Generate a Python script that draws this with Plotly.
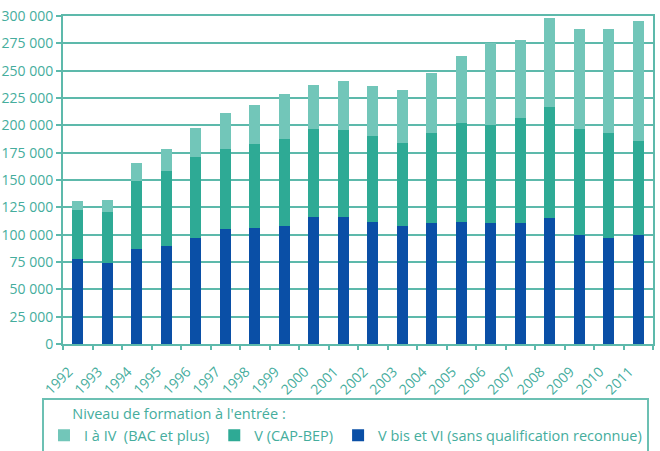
import plotly.graph_objects as go

years = [str(y) for y in range(1992, 2012)]
vbis_vi = [77700, 73800, 86900, 89600, 96900, 104900, 106100, 107600, 115900, 115900,
           111900, 107600, 110400, 111600, 110400, 110400, 115500, 99700, 96700, 99700]
v_cap_bep = [44800, 47200, 62500, 68400, 73800, 73700, 76800, 79600, 80400, 79800,
             78300, 76000, 82300, 90200, 90200, 96000, 101500, 96900, 96000, 86000]
i_iv_bac = [8000, 11000, 16600, 20600, 27300, 33000, 36000, 41800, 40900, 45100,
            46100, 48700, 55200, 61600, 75000, 71900, 81200, 91500, 95400, 109400]
y_ticks = list(range(0, 300001, 25000))

teal_txt = "#45ad9d"
grid_c = "#5db9ab"
font_fam = "Open Sans"

fig = go.Figure()
fig.add_trace(go.Bar(x=years, y=vbis_vi, name="V bis et VI (sans qualification reconnue)",
                     marker=dict(color="#0a4fa6", line=dict(width=0)), legendrank=3))
fig.add_trace(go.Bar(x=years, y=v_cap_bep, name="V (CAP-BEP)",
                     marker=dict(color="#2eaa95", line=dict(width=0)), legendrank=2))
fig.add_trace(go.Bar(x=years, y=i_iv_bac, name="I à IV  (BAC et plus)",
                     marker=dict(color="#72c6b9", line=dict(width=0)), legendrank=1))

fig.update_layout(
    width=660, height=451,
    barmode="stack", bargap=0.63,
    margin=dict(l=63, r=7, t=16, b=107, autoexpand=False),
    paper_bgcolor="white", plot_bgcolor="white",
    separators=", ",
    font=dict(family=font_fam, size=14, color=teal_txt),
    showlegend=True,
    legend=dict(
        orientation="h", traceorder="normal",
        x=-0.0356, xanchor="left", y=-0.166, yanchor="top",
        bordercolor="#6cc0b3", borderwidth=2, bgcolor="white",
        font=dict(family=font_fam, size=14.5, color=teal_txt),
        title=dict(text="\u00a0\u00a0\u00a0\u00a0\u00a0\u00a0\u00a0Niveau de formation à l'entrée :", side="top",
                   font=dict(family=font_fam, size=14.5, color=teal_txt)),
        itemclick=False,
    ),
)
fig.update_xaxes(
    type="category", showline=True, linecolor=grid_c, linewidth=2, mirror=True,
    ticks="outside", tickson="boundaries", ticklen=4, tickcolor=grid_c, tickwidth=1.5,
    tickangle=-45, showgrid=False, tickfont=dict(size=14, color=teal_txt),
    ticklabelshift=-9, ticklabelstandoff=12,
    automargin=False,
)
fig.update_yaxes(
    range=[0, 300000], tickvals=y_ticks, tickformat=",d",
    showline=True, linecolor=grid_c, linewidth=2, mirror=True,
    ticks="outside", ticklen=5, tickcolor=grid_c, tickwidth=1.5,
    showgrid=True, gridcolor=grid_c, gridwidth=2, zeroline=False,
    tickfont=dict(size=14, color=teal_txt), automargin=False,
)

fig.write_html("out.html")
